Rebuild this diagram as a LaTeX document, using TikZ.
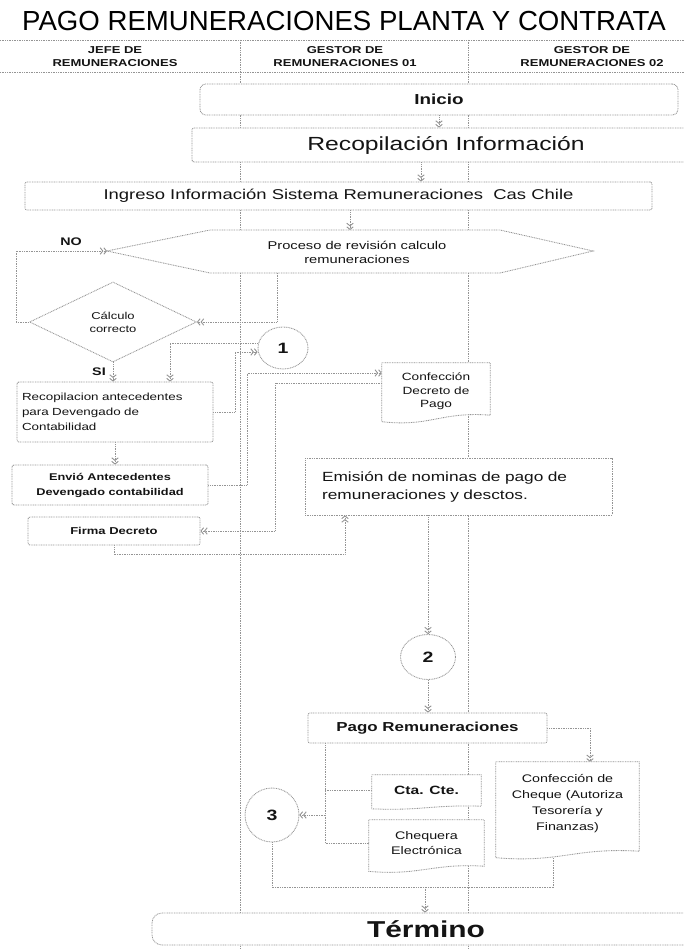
\documentclass[tikz,border=0pt]{standalone}
\usepackage{fontspec}
\setmainfont{Liberation Sans}
\newfontfamily\bodyf[FakeStretch=1.3]{Liberation Sans}
\newfontfamily\titlef{Liberation Sans}
\usetikzlibrary{arrows.meta,shapes.geometric,calc}
\pgfdeclarelayer{bg}
\pgfdeclarelayer{mid}
\pgfsetlayers{bg,mid,main}
\newcommand\fsz[2]{\fontsize{#1pt}{#2pt}\selectfont}
\definecolor{ln}{gray}{0.58}
\definecolor{tx}{gray}{0.08}
\tikzset{
  dotl/.style={draw=ln, line width=0.85pt, dash pattern=on 0.9pt off 0.8pt},
  conn/.style={dotl},
  arr/.style={dotl, -{Straight Barb[length=2.6pt,width=6.5pt,line width=0.9pt]Straight Barb[length=2.6pt,width=6.5pt,line width=0.9pt]}},
  shp/.style={dotl, fill=white},
  proc/.style={shp, rectangle, rounded corners=2pt, inner sep=0pt, text=tx, align=center},
  txt/.style={text=tx, inner sep=0pt, align=center},
  conc/.style={shp, ellipse, inner sep=0pt, text=tx, font=\bodyf\bfseries\fsz{15}{17}},
}
\newcommand\docout[3]{%
  \draw[shp] (#1.north west) -- (#1.north east) -- ($(#1.south east)+(0,#3-#2)$)
   .. controls ($(#1.south east)!0.45!(#1.south west)+(0,#3-1.8*#2)$)
   and ($(#1.south west)!0.45!(#1.south east)+(0,#3+1.4*#2)$)
   .. ($(#1.south west)+(0,#3+0.3*#2)$) -- cycle;}
\begin{document}
\begin{tikzpicture}[x=1pt,y=-1pt]
\useasboundingbox (0,0) rectangle (684,949);
\begin{pgfonlayer}{bg}
\fill[white] (0,0) rectangle (684,949);
\end{pgfonlayer}
\clip (0,0) rectangle (684,949);

% title and headers
\node[text=black, inner sep=0pt, font=\titlef\fsz{27.6}{30}] (title) at (344,21) {PAGO REMUNERACIONES PLANTA Y CONTRATA};
\node[txt, font=\bodyf\bfseries\fsz{10}{13}] (h1) at (115,56.5) {JEFE DE\\REMUNERACIONES};
\node[txt, font=\bodyf\bfseries\fsz{10}{13}] (h2) at (345,56.5) {GESTOR DE\\REMUNERACIONES 01};
\node[txt, font=\bodyf\bfseries\fsz{10}{13}] (h3) at (592,56.5) {GESTOR DE\\REMUNERACIONES 02};

% top boxes
\node[proc, rounded corners=6pt, minimum width=478pt, minimum height=31pt, font=\bodyf\bfseries\fsz{14.5}{17}] (ini) at (439,99.5) {Inicio};
\node[proc, minimum width=508pt, minimum height=34pt, font=\bodyf\fsz{19}{21}] (rec) at (446,145) {Recopilación Información};
\node[proc, minimum width=627pt, minimum height=28pt, font=\bodyf\fsz{14.2}{16}] (ing) at (338.5,196) {Ingreso Información Sistema Remuneraciones\ \ Cas Chile};

% hexagon
\coordinate (hexL) at (107,251);
\coordinate (hexT) at (350,230);
\coordinate (hexB) at (277,273);
\begin{pgfonlayer}{mid}
\draw[shp] (hexL) -- (210,230) -- (500,230) -- (593,251) -- (500,273) -- (210,273) -- cycle;
\end{pgfonlayer}
\node[txt, font=\bodyf\fsz{11.3}{14}] (hex) at (357,252) {Proceso de revisión calculo\\remuneraciones};

% decision
\node[shp, diamond, minimum width=167pt, minimum height=80pt, inner sep=0pt, text=tx, align=center, font=\bodyf\fsz{10}{13}] (dia) at (113,322) {Cálculo\\correcto};
\node[txt, font=\bodyf\bfseries\fsz{11}{13}] (no) at (71,242) {NO};
\node[txt, font=\bodyf\bfseries\fsz{11}{13}] (si) at (99,372) {SI};

% left lane
\node[proc, minimum width=196pt, minimum height=60pt, text width=186pt, inner xsep=5pt, align=left, font=\bodyf\fsz{10.3}{15}] (recA) at (115,412) {Recopilacion antecedentes\\para Devengado de\\Contabilidad};
\node[proc, minimum width=196pt, minimum height=40pt, font=\bodyf\bfseries\fsz{9.8}{15}] (env) at (110,485) {Envió Antecedentes\\Devengado contabilidad};
\node[proc, minimum width=172pt, minimum height=28pt, font=\bodyf\bfseries\fsz{10}{12}] (fir) at (114,531) {Firma Decreto};

% connectors circles
\node[conc, minimum width=50pt, minimum height=42pt] (c1) at (283,348) {1};
\node[conc, minimum width=55pt, minimum height=45pt] (c2) at (428,657) {2};
\node[conc, minimum width=54pt, minimum height=54pt] (c3) at (272,815) {3};

% document shapes
\node[txt, minimum width=108pt, minimum height=57pt, font=\bodyf\fsz{10.5}{13.5}] (dec) at (436,391.5) {Confección\\Decreto de\\Pago};
\node[txt, minimum width=143pt, minimum height=84pt, font=\bodyf\fsz{11}{16}] (chq) at (567.5,804) {Confección de\\Cheque (Autoriza\\Tesorería y\\Finanzas)};
\node[txt, minimum width=109pt, minimum height=30pt, font=\bodyf\bfseries\fsz{12}{14}] (cta) at (426.5,790) {Cta. Cte.};
\node[txt, minimum width=115pt, minimum height=46pt, font=\bodyf\fsz{11}{15}] (cheq) at (426.5,843) {Chequera\\Electrónica};
\begin{pgfonlayer}{mid}
\docout{dec}{5}{0}
\docout{chq}{5}{10}
\docout{cta}{2}{3}
\docout{cheq}{4}{4}
\end{pgfonlayer}

% other boxes
\node[proc, rounded corners=0pt, minimum width=307pt, minimum height=57pt, text width=273pt, inner xsep=17pt, align=left, font=\bodyf\fsz{13.3}{18}] (emi) at (458.5,486.5) {Emisión de nominas de pago de\\remuneraciones y desctos.};
\node[proc, minimum width=239pt, minimum height=30pt, font=\bodyf\bfseries\fsz{13}{15}] (pago) at (427.5,728) {Pago Remuneraciones};
\node[proc, rounded corners=10pt, minimum width=548pt, minimum height=32pt, font=\bodyf\bfseries\fsz{23}{25}] (ter) at (426,929) {Término};

\begin{pgfonlayer}{bg}
% grid lines
\draw[conn] (0,40) -- (684,40);
\draw[conn] (0,72) -- (684,72);
\draw[conn] (240,40) -- (240,949);
\draw[conn] (468,40) -- (468,949);
% flow
\draw[arr] (ini.south) -- (ini.south |- rec.north);
\draw[arr] ([xshift=-25pt]rec.south) -- ([xshift=-25pt]rec.south |- ing.north);
\draw[arr] ([xshift=11.5pt]ing.south) -- (hexT);
\draw[arr] (hexB) |- (dia.east);
\draw[arr] (dia.west) -- ++(-13,0) |- (hexL);
\draw[arr] (dia.south) -- (dia.south |- recA.north);
\draw[arr] ([yshift=5pt]c1.west) -| ([xshift=55pt]recA.north);
\draw[arr] (recA.east) -- ++(22,0) |- ([yshift=-4pt]c1.west);
\draw[arr] (recA.south) -- (recA.south |- env.north);
\draw[arr] (env.east) -- ++(39,0) |- ([yshift=18.5pt]dec.west);
\coordinate (k1) at (275,383);
\draw[arr] ([yshift=8.5pt]dec.west) -- (k1) |- (fir.east);
\draw[arr] (fir.south) -- ++(0,9) -| ([xshift=-113.5pt]emi.south);
\draw[arr] ([xshift=-30.5pt]emi.south) -- (c2.north);
\draw[arr] (c2.south) -- (c2.south |- pago.north);
\draw[arr] (pago.east) -| ([xshift=22.5pt]chq.north);
\coordinate (bus) at (325,815);
\draw[conn] (pago.south -| bus) |- (cheq.west);
\draw[conn] (cta.west) -- (cta.west -| bus);
\draw[arr] (bus) -- (c3.east);
\coordinate (j) at (553,887);
\draw[conn] (c3.south) |- (j) -- ([xshift=-14.5pt,yshift=-12pt]chq.south);
\coordinate (m) at (425,887);
\draw[arr] (m) -- (m |- ter.north);
\end{pgfonlayer}
\end{tikzpicture}
\end{document}
